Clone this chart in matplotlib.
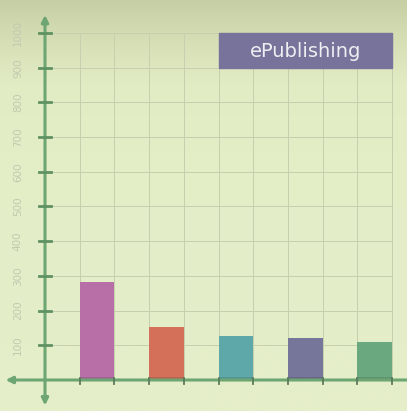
import numpy as np
import matplotlib.pyplot as plt
from matplotlib.colors import LinearSegmentedColormap

# data
values = [282, 153, 127, 121, 110]
bar_colors = ['#b86fa8', '#d4705a', '#5fa8a9', '#76759a', '#6aa880']
y_ticks = [100, 200, 300, 400, 500, 600, 700, 800, 900, 1000]
legend_label = 'ePublishing'

unit = 34.7  # pixels per grid step
fig = plt.figure(figsize=(4.07, 4.11), dpi=100)
ax = fig.add_axes([0, 0, 1, 1])
x0, x1 = -45 / unit, (407 - 45) / unit
y0, y1 = (380 - 411) / unit * 100, 380 / unit * 100
ax.set_xlim(x0, x1)
ax.set_ylim(y0, y1)
ax.axis('off')

#background gradient
cmap = LinearSegmentedColormap.from_list('bg', ['#e4eec8', '#e2ecc4', '#c6cea4'])
grad = np.linspace(0, 1, 256).reshape(-1, 1) ** 3
ax.imshow(grad, extent=(x0, x1, y0, y1), origin='lower', aspect='auto', cmap=cmap, zorder=0)

#grid
for k in range(1, 11):
    ax.plot([k, k], [0, 1000], color='#c6cfae', lw=0.7, zorder=1)
for v in y_ticks:
    ax.plot([0, 10], [v, v], color='#c6cfae', lw=0.7, zorder=1)

#bars
xs = [1.5, 3.5, 5.5, 7.5, 9.5]
ax.bar(xs, values, width=1.0, color=bar_colors, zorder=2)
ax.bar(xs, [8] * 5, width=1.0, color='#000000', alpha=0.12, zorder=3)

#axes lines with arrows
axis_col = '#6da672'
ax.annotate('', xy=(0, y1 - 35), xytext=(0, y0 + 8),
            arrowprops=dict(arrowstyle='<|-|>', color=axis_col, lw=2.2, mutation_scale=10), zorder=4)
ax.annotate('', xy=(x0 + 0.08, 0), xytext=(x1 + 0.1, 0),
            arrowprops=dict(arrowstyle='-|>', color=axis_col, lw=2.2, mutation_scale=10), zorder=4)

#ticks
for v in y_ticks:
    ax.plot([-0.18, 0.18], [v, v], color='#5f9262', lw=2, zorder=5)
    ax.text(-0.78, v, str(v), rotation=90, ha='center', va='center',
            fontsize=7.5, color='#c0cab0', zorder=5)
for k in range(1, 11):
    ax.plot([k, k], [-12, 6], color='#5a7a5a', lw=1.3, zorder=5)

#legend box
ax.add_patch(plt.Rectangle((5, 900), 5, 100, color='#77739a', zorder=6))
ax.text(7.5, 948, legend_label, ha='center', va='center', fontsize=14,
        color='#eeeef2', zorder=7)

fig.savefig('out.png', dpi=100)
